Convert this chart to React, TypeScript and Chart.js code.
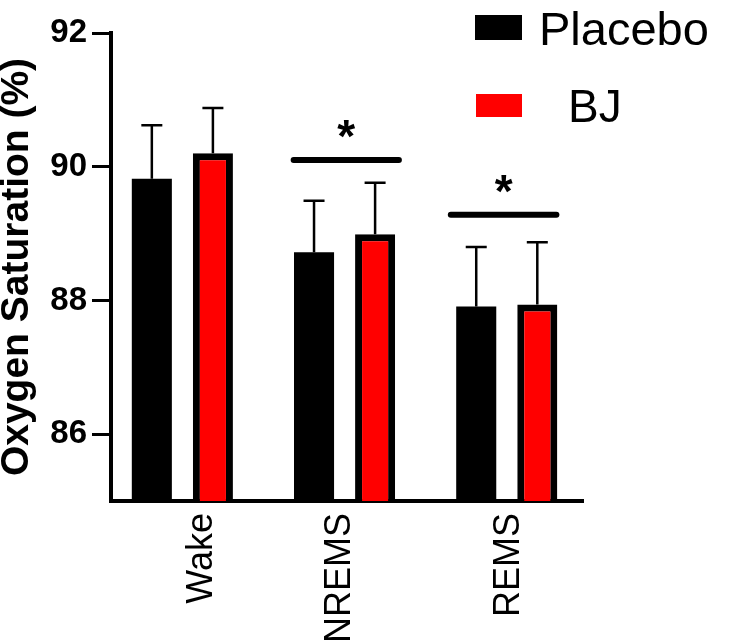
import React, { useEffect, useRef } from "react";
import { Chart, registerables } from "chart.js";

Chart.register(...registerables);

// ---- data ----
const categories = ["Wake", "NREMS", "REMS"];
const seriesNames = ["Placebo", "BJ"];
const placeboMean = [89.82, 88.72, 87.91];
const placeboErr = [0.8, 0.77, 0.89];
const bjMean = [90.2, 88.99, 87.94];
const bjErr = [0.68, 0.77, 0.93];
const yTicks = [86, 88, 90, 92];
const yMin = 85;
const yMax = 92;
// significance brackets (x in category units, y in %)
const sigFrom = [0.686, 1.655];
const sigTo = [1.335, 2.306];
const sigLevel = [90.1, 89.28];
const sigLabel = ["*", "*"];

// where the category labels sit along the x axis (layout, in category units)
const labelAt = [0.12, 0.972, 2.015];

const FONT = "'Liberation Sans', Arial, Helvetica, sans-serif";
const errors = [placeboErr, bjErr];

const errorBarPlugin = {
  id: "errorBars",
  afterDatasetsDraw(chart: any) {
    const ctx = chart.ctx;
    const y = chart.scales.y;
    ctx.save();
    ctx.strokeStyle = "#000";
    ctx.lineWidth = 2.5;
    ctx.lineCap = "butt";
    chart.data.datasets.forEach((ds: any, di: number) => {
      const meta = chart.getDatasetMeta(di);
      meta.data.forEach((el: any, i: number) => {
        const v = ds.data[i].y + errors[di][i];
        const top = y.getPixelForValue(v);
        ctx.beginPath();
        ctx.moveTo(el.x, el.y);
        ctx.lineTo(el.x, top);
        ctx.moveTo(el.x - 10.5, top);
        ctx.lineTo(el.x + 10.5, top);
        ctx.stroke();
      });
    });
    ctx.restore();
  },
};

const significancePlugin = {
  id: "significance",
  afterDatasetsDraw(chart: any) {
    const ctx = chart.ctx;
    const x = chart.scales.x;
    const y = chart.scales.y;
    ctx.save();
    sigLevel.forEach((lvl, i) => {
      const x0 = x.getPixelForValue(sigFrom[i]);
      const x1 = x.getPixelForValue(sigTo[i]);
      const py = y.getPixelForValue(lvl);
      ctx.strokeStyle = "#000";
      ctx.lineWidth = 6;
      ctx.lineCap = "round";
      ctx.beginPath();
      ctx.moveTo(x0, py);
      ctx.lineTo(x1, py);
      ctx.stroke();
      ctx.fillStyle = "#000";
      ctx.font = `bold 46px ${FONT}`;
      ctx.textAlign = "center";
      ctx.textBaseline = "alphabetic";
      ctx.fillText(sigLabel[i], (x0 + x1) / 2, py - 32 + 24);
    });
    ctx.restore();
  },
};

const legendPlugin = {
  id: "customLegend",
  afterDraw(chart: any) {
    const ctx = chart.ctx;
    const ds = chart.data.datasets;
    ctx.save();
    ctx.textAlign = "left";
    ctx.textBaseline = "alphabetic";
    // Placebo
    ctx.fillStyle = ds[0].backgroundColor;
    ctx.fillRect(475, 15, 47, 25);
    ctx.fillStyle = "#000";
    ctx.font = `47px ${FONT}`;
    ctx.fillText(ds[0].label, 539, 45);
    // BJ
    ctx.fillStyle = ds[1].backgroundColor;
    ctx.fillRect(476, 94, 46, 23);
    ctx.fillStyle = "#000";
    ctx.font = `46px ${FONT}`;
    ctx.fillText(ds[1].label, 568, 122);
    ctx.restore();
  },
};

export default function App() {
  const ref = useRef<HTMLCanvasElement>(null);

  useEffect(() => {
    if (!ref.current) return;
    const chart = new Chart(ref.current, {
      type: "bar",
      data: {
        datasets: [
          {
            label: seriesNames[0],
            xAxisID: "x",
            yAxisID: "y",
            data: placeboMean.map((v, i) => ({ x: i, y: v })),
            backgroundColor: "#000000",
            borderColor: "#000000",
            borderWidth: 0,
          },
          {
            label: seriesNames[1],
            xAxisID: "x",
            yAxisID: "y",
            data: bjMean.map((v, i) => ({ x: i, y: v })),
            backgroundColor: "#FF0000",
            borderColor: "#000000",
            borderWidth: 7,
            borderSkipped: "bottom",
          },
        ],
      },
      options: {
        responsive: false,
        animation: false,
        devicePixelRatio: 1,
        categoryPercentage: 0.753,
        barPercentage: 0.656,
        layout: { padding: { top: 33, right: 153, left: 0, bottom: 0 } },
        plugins: {
          legend: { display: false },
          tooltip: { enabled: false },
        },
        scales: {
          x: {
            type: "linear",
            position: "bottom",
            offset: false,
            min: -0.44,
            max: 2.47,
            bounds: "data",
            afterBuildTicks: (s: any) => {
              s.ticks = categories.map((_, i) => ({ value: i }));
            },
            afterFit: (s: any) => {
              s.height = 0;
            },
            ticks: { display: false },
            grid: { display: false, drawTicks: false, offset: false },
            border: { display: true, color: "#000", width: 4 },
          },
          xLabels: {
            type: "linear",
            position: "bottom",
            offset: false,
            min: -0.44,
            max: 2.47,
            bounds: "data",
            afterBuildTicks: (s: any) => {
              s.ticks = labelAt.map((v) => ({ value: v }));
            },
            afterFit: (s: any) => {
              s.height = 141;
            },
            ticks: {
              autoSkip: false,
              minRotation: 90,
              maxRotation: 90,
              padding: 12,
              color: "#000",
              font: { family: FONT, size: 36 },
              callback: (_v: any, i: number) => categories[i] ?? "",
            },
            grid: { display: false, drawTicks: false, offset: false },
            border: { display: false },
          },
          y: {
            type: "linear",
            min: yMin,
            max: yMax,
            afterBuildTicks: (s: any) => {
              s.ticks = yTicks.map((v) => ({ value: v }));
            },
            afterFit: (s: any) => {
              s.width = 111;
            },
            ticks: {
              padding: 5,
              color: "#000",
              font: { family: FONT, size: 33, weight: "bold" },
            },
            grid: {
              display: true,
              drawOnChartArea: false,
              drawTicks: true,
              tickLength: 19,
              lineWidth: 3,
              color: "#000",
            },
            border: { display: true, color: "#000", width: 4 },
            title: {
              display: true,
              text: "Oxygen Saturation (%)",
              color: "#000",
              padding: 0,
              font: { family: FONT, size: 39, weight: "bold", lineHeight: 0.9 },
            },
          },
        },
      },
      plugins: [errorBarPlugin, significancePlugin, legendPlugin],
    } as any);
    return () => chart.destroy();
  }, []);

  return (
    <div style={{ position: "absolute", left: 0, top: 0, width: 736, height: 642, background: "#fff" }}>
      <canvas ref={ref} width={736} height={642} style={{ display: "block" }} />
    </div>
  );
}
